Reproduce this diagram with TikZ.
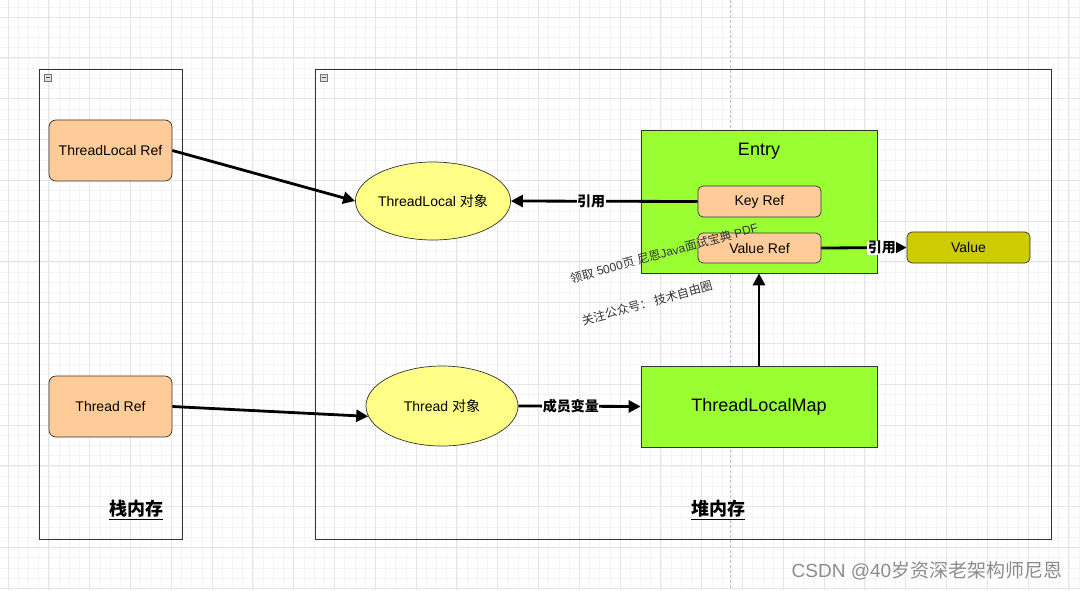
\documentclass[tikz,border=0pt]{standalone}
\usepackage{fontspec}
\setmainfont{Liberation Sans}
\newfontfamily\cjk{Noto Sans CJK SC}
\usetikzlibrary{arrows.meta,shapes.geometric}
\definecolor{peach}{HTML}{FFCC99}
\definecolor{objyellow}{HTML}{FFFF88}
\definecolor{mapgreen}{HTML}{99FF33}
\definecolor{valolive}{HTML}{CCCC00}
\definecolor{minorgrid}{HTML}{F4F4F4}
\definecolor{majorgrid}{HTML}{E5E5E5}
\definecolor{edge}{HTML}{333333}
\tikzset{
  container/.style={draw=edge, line width=0.9pt, inner sep=0pt},
  refbox/.style={draw=edge, line width=0.7pt, fill=peach, rounded corners=7pt, minimum width=123pt, minimum height=61pt, inner sep=0pt, font=\fontsize{14}{16}\selectfont},
  smallref/.style={refbox, minimum height=31pt, rounded corners=5pt},
  objell/.style={ellipse, draw=edge, line width=0.7pt, fill=objyellow, minimum width=154pt, minimum height=78pt, inner sep=0pt, font=\fontsize{14}{16}\selectfont},
  greenbox/.style={draw=edge, line width=0.7pt, fill=mapgreen, inner sep=0pt, minimum width=236pt},
  conn/.style={draw=black, line width=2.8pt, -{Triangle[length=12pt,width=12pt]}},
  lab/.style={fill=white, inner sep=0.5pt, font=\cjk\bfseries\fontsize{14}{16}\selectfont},
  memlab/.style={font=\cjk\bfseries\fontsize{18}{20}\selectfont},
  wm/.style={text=black!80, font=\fontsize{12}{14}\selectfont, rotate=15.4, inner sep=0pt},
  icon/.style={draw=black!55, fill=black!12, line width=0.5pt, minimum size=7pt, inner sep=0pt}
}
\begin{document}
\begin{tikzpicture}[x=1pt,y=-1pt]
\useasboundingbox (0,0) rectangle (1080,590);
\fill[white] (0,0) rectangle (1080,590);
% grid
\foreach \k in {-1,...,105} \draw[minorgrid, line width=0.6pt] ({8+10.2*\k},0) -- ({8+10.2*\k},590);
\foreach \k in {-1,...,56} \draw[minorgrid, line width=0.6pt] (0,{17+10.2*\k}) -- (1080,{17+10.2*\k});
\foreach \k in {0,...,26} \draw[majorgrid, line width=0.7pt] ({8+40.8*\k},0) -- ({8+40.8*\k},590);
\foreach \k in {0,...,14} \draw[majorgrid, line width=0.7pt] (0,{17+40.8*\k}) -- (1080,{17+40.8*\k});
\draw[black!25, line width=0.8pt, dash pattern=on 3pt off 2pt] (730,0) -- (730,590);

% containers
\node[container, minimum width=143pt, minimum height=470pt] (stack) at (110.5,304) {};
\node[container, minimum width=736pt, minimum height=470pt] (heap) at (683,304) {};
\node[icon] (icon1) at (48,77.5) {};
\draw[black!70, line width=0.6pt] ([xshift=1.5pt]icon1.west) -- ([xshift=-1.5pt]icon1.east);
\node[icon] (icon2) at (324,77.5) {};
\draw[black!70, line width=0.6pt] ([xshift=1.5pt]icon2.west) -- ([xshift=-1.5pt]icon2.east);

% stack refs
\node[refbox] (tlref) at (110.5,150.5) {ThreadLocal Ref};
\node[refbox] (thref) at (110.5,406.5) {Thread Ref};

% heap objects
\node[objell] (tlobj) at (433,201) {ThreadLocal {\cjk 对象}};
\node[objell, minimum width=152pt, minimum height=80pt] (thobj) at (442,406) {Thread {\cjk 对象}};

\node[greenbox, minimum height=143pt] (entry) at (759,201.5) {};
\node[font=\fontsize{18}{20}\selectfont] (entrytitle) at (759,151) {Entry};
\node[smallref] (keyref) at (759.5,201.5) {Key Ref};
\node[smallref, minimum height=30pt] (valref) at (759.5,248) {Value Ref};
\node[smallref, fill=valolive] (value) at (968.5,247.5) {Value};
\node[greenbox, minimum height=81pt, font=\fontsize{18}{20}\selectfont] (map) at (759,406.5) {ThreadLocalMap};

% connectors
\draw[conn] (tlref.east) -- (tlobj.west);
\draw[conn] (thref.east) -- (thobj.188);
\draw[conn] (keyref.west) -- node[lab, pos=0.57] {引用} (tlobj.east);
\draw[conn] (valref.east) -- node[lab, pos=0.71] {引用} (value.west);
\draw[conn] (thobj.east) -- node[lab, pos=0.43] {成员变量} (map.west);
\draw[conn] (map.north) -- (entry.south);

% memory labels
\node[memlab] (stacklab) at (136,510) {\underline{栈内存}};
\node[memlab] (heaplab) at (718,510) {\underline{堆内存}};

% watermark texts
\node[wm] (wm1) at (664,253) {{\cjk 领取} 5000{\cjk 页} {\cjk 尼恩}Java{\cjk 面试宝典} PDF};
\node[wm] (wm2) at (647,303) {{\cjk 关注公众号： 技术自由圈}};
\node[text=black!45, font=\fontsize{19}{21}\selectfont, inner sep=0pt] (csdn) at (927,571) {CSDN @40{\cjk 岁资深老架构师尼恩}};
\end{tikzpicture}
\end{document}
